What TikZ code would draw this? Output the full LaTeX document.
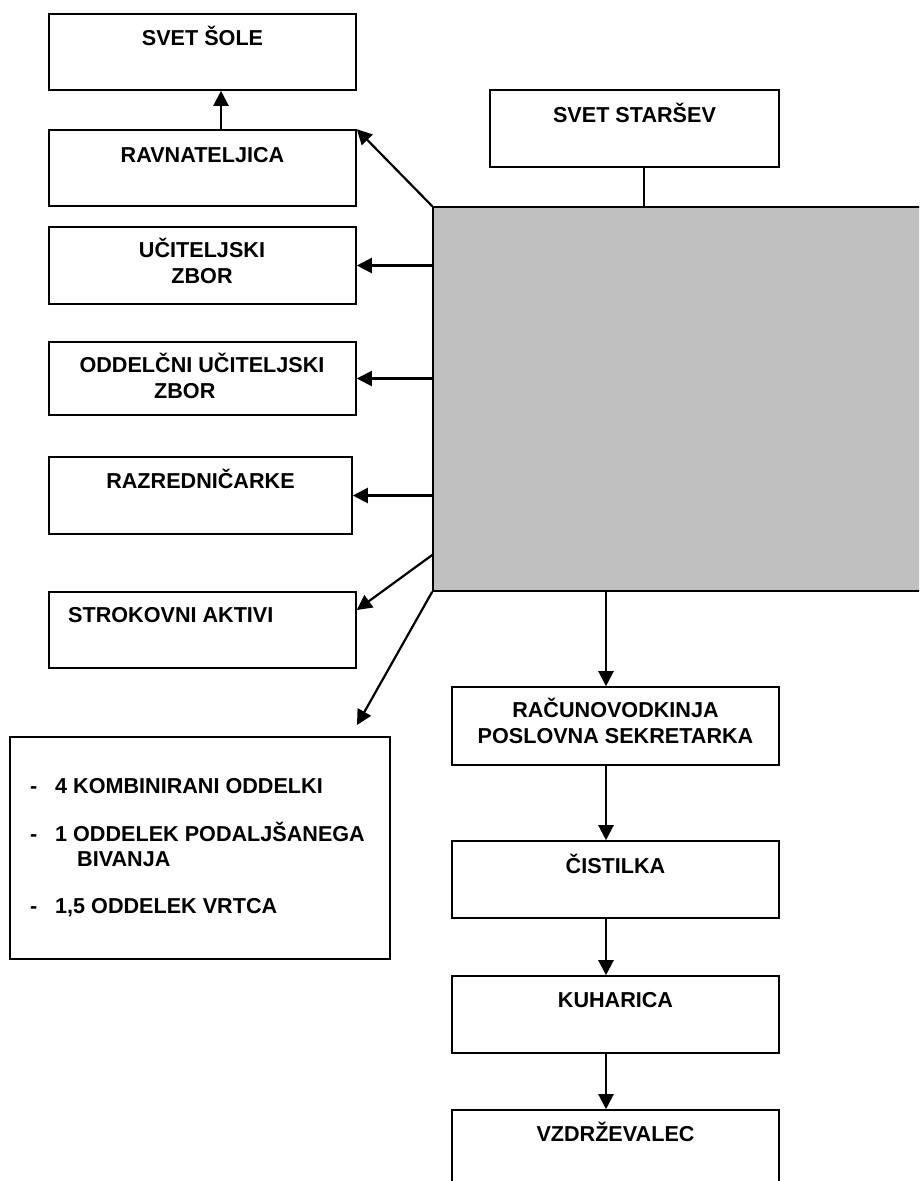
\documentclass[tikz,border=0pt]{standalone}
\usepackage{fontspec}
\setmainfont{Liberation Sans}
\usetikzlibrary{arrows.meta}
\tikzset{
  box/.style={draw, line width=1.6pt, inner sep=0pt, fill=white},
  txt/.style={inner sep=0pt, font=\fontsize{21.6}{26}\selectfont\bfseries},
  arr/.style={line width=2.2pt, -{Triangle[length=15pt,width=15pt]}},
  link/.style={line width=2.2pt},
}
\begin{document}
\begin{tikzpicture}[x=1pt,y=-1pt]
\useasboundingbox (0,0) rectangle (919,1181);
\clip (0,0) rectangle (919,1181);
% grey block
\node[draw, line width=1.6pt, fill={rgb,255:red,192;green,192;blue,192}, inner sep=0pt,
      minimum width=502pt, minimum height=384pt] (grey) at (684,399) {};
% left column boxes
\node[box, minimum width=307pt, minimum height=76pt] (sole) at (202.5,52) {};
\node[box, minimum width=307pt, minimum height=76pt] (ravn) at (202.5,168) {};
\node[box, minimum width=307pt, minimum height=77pt] (ucit) at (202.5,265.5) {};
\node[box, minimum width=307pt, minimum height=73pt] (oddel) at (202.5,378.5) {};
\node[box, minimum width=303pt, minimum height=77pt] (razr) at (200.5,495.5) {};
\node[box, minimum width=307pt, minimum height=76pt] (strok) at (202.5,630) {};
\node[box, minimum width=380pt, minimum height=222pt] (big) at (200,848) {};
% right column boxes
\node[box, minimum width=289pt, minimum height=77pt] (stars) at (634.5,128.5) {};
\node[box, minimum width=327pt, minimum height=78pt] (rac) at (615.5,726) {};
\node[box, minimum width=327pt, minimum height=77pt] (cist) at (615.5,879.5) {};
\node[box, minimum width=327pt, minimum height=77pt] (kuh) at (615.5,1014.5) {};
\node[box, minimum width=327pt, minimum height=77pt] (vzd) at (615.5,1148.5) {};
% texts
\node[txt, anchor=base] (tsole) at (202.5,45) {SVET ŠOLE};
\node[txt, anchor=base] (travn) at (202.5,162) {RAVNATELJICA};
\node[txt, anchor=base] (tucitA) at (202,257) {UČITELJSKI};
\node[txt, anchor=base] (tucitB) at (202,283) {ZBOR};
\node[txt, anchor=base] (toddA) at (202,372) {ODDELČNI UČITELJSKI};
\node[txt, anchor=base west] (toddB) at (154,398) {ZBOR};
\node[txt, anchor=base] (trazr) at (200.5,488) {RAZREDNIČARKE};
\node[txt, anchor=base west] (tstrok) at (68,622) {STROKOVNI AKTIVI};
\node[txt, anchor=base west] (dA) at (30,793) {-};
\node[txt, anchor=base west] (tbigA) at (55,793) {4 KOMBINIRANI ODDELKI};
\node[txt, anchor=base west] (dB) at (30,841) {-};
\node[txt, anchor=base west] (tbigB) at (55,841) {1 ODDELEK PODALJŠANEGA};
\node[txt, anchor=base west] (tbigC) at (77,866) {BIVANJA};
\node[txt, anchor=base west] (dC) at (30,913) {-};
\node[txt, anchor=base west] (tbigD) at (55,913) {1,5 ODDELEK VRTCA};
\node[txt, anchor=base] (tstars) at (634.5,122) {SVET STARŠEV};
\node[txt, anchor=base] (tracA) at (615.5,717) {RAČUNOVODKINJA};
\node[txt, anchor=base] (tracB) at (615.5,743) {POSLOVNA SEKRETARKA};
\node[txt, anchor=base] (tcist) at (615.5,873) {ČISTILKA};
\node[txt, anchor=base] (tkuh) at (615.5,1007) {KUHARICA};
\node[txt, anchor=base] (tvzd) at (615.5,1141) {VZDRŽEVALEC};
% connectors
\draw[arr] ([xshift=18.5pt]ravn.north) -- ([xshift=18.5pt]sole.south);
\draw[arr] (grey.north west) -- (ravn.north east);
\draw[arr] (grey.west |- ucit.east) -- (ucit.east);
\draw[arr] (grey.west |- oddel.east) -- (oddel.east);
\draw[arr] (grey.west |- razr.east) -- (razr.east);
\coordinate (gs) at (grey.west |- 0,555);
\coordinate (se) at (strok.east |- 0,610);
\draw[arr] (gs) -- (se);
\coordinate (bigtip) at (357,725);
\draw[arr] (grey.south west) -- (bigtip);
\draw[link] ([xshift=9.5pt]stars.south) -- ([xshift=9.5pt]stars.south |- grey.north);
\draw[arr] ([xshift=-9.5pt]rac.north |- grey.south) -- ([xshift=-9.5pt]rac.north);
\draw[arr] ([xshift=-9.5pt]rac.south) -- ([xshift=-9.5pt]cist.north);
\draw[arr] ([xshift=-9.5pt]cist.south) -- ([xshift=-9.5pt]kuh.north);
\draw[arr] ([xshift=-9.5pt]kuh.south) -- ([xshift=-9.5pt]vzd.north);
\end{tikzpicture}
\end{document}
